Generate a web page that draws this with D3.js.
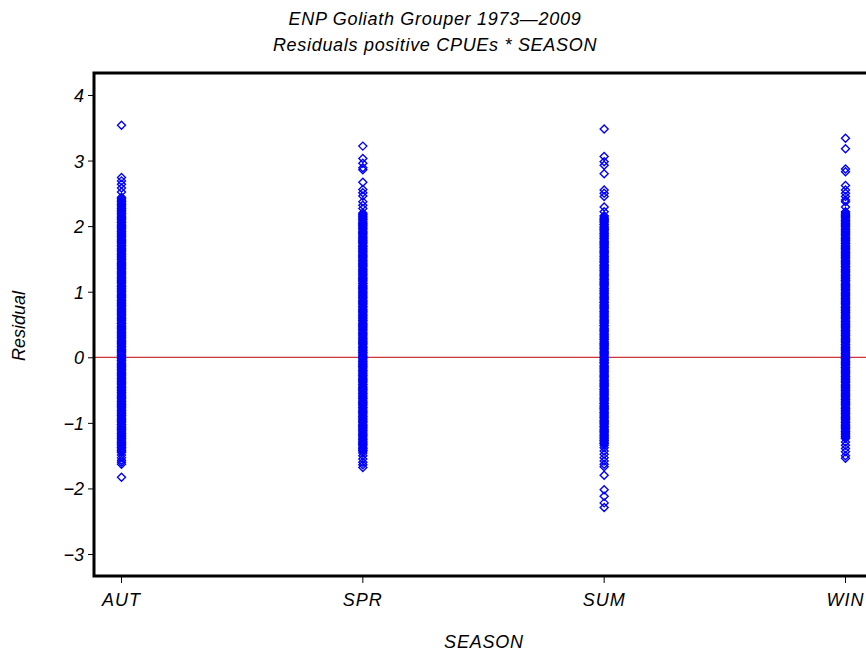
<!DOCTYPE html>
<html>
<head>
<meta charset="utf-8">
<script src="https://cdn.jsdelivr.net/npm/d3@7"></script>
<style>
  html, body { margin: 0; padding: 0; background: #fff; overflow: hidden; }
  svg text { font-family: "Liberation Sans", Arial, sans-serif; font-style: italic; fill: #000; }
</style>
</head>
<body>
<div id="chart"></div>
<script>
// categories on the x axis
var seasons = ["AUT", "SPR", "SUM", "WIN"];
var yTicks = [-3, -2, -1, 0, 1, 2, 3, 4];

// residuals, one list per season
var autResid = [3.54, 2.74, 2.69, 2.64, 2.58, 2.52,
    2.44, 2.40, 2.37, 2.33, 2.29, 2.26, 2.22, 2.19, 2.15, 2.12, 2.08, 2.05, 2.01, 1.98, 1.94, 1.91, 1.87, 1.84,
    1.80, 1.77, 1.73, 1.70, 1.66, 1.63, 1.59, 1.56, 1.52, 1.49, 1.45, 1.42, 1.38, 1.35, 1.31, 1.28, 1.24, 1.21,
    1.17, 1.14, 1.10, 1.07, 1.03, 1.00, 0.96, 0.93, 0.89, 0.86, 0.82, 0.79, 0.75, 0.72, 0.68, 0.65, 0.61, 0.58,
    0.54, 0.51, 0.47, 0.44, 0.40, 0.37, 0.33, 0.30, 0.26, 0.23, 0.19, 0.16, 0.12, 0.09, 0.05, 0.02, -0.02, -0.05,
    -0.09, -0.12, -0.16, -0.19, -0.23, -0.26, -0.30, -0.33, -0.37, -0.40, -0.44, -0.47, -0.51, -0.54, -0.58, -0.61,
    -0.65, -0.68, -0.72, -0.75, -0.79, -0.82, -0.86, -0.89, -0.93, -0.96, -1.00, -1.03, -1.07, -1.10, -1.14, -1.17,
    -1.21, -1.24, -1.28, -1.31, -1.35, -1.38, -1.42, -1.45, -1.49, -1.53, -1.57, -1.60, -1.63, -1.83];
var autCore = [2.42, 2.38, 2.35, 2.31, 2.27, 2.24, 2.20, 2.17, 2.13, 2.10, 2.06, 2.03, 1.99, 1.96, 1.92, 1.89,
    1.85, 1.82, 1.78, 1.75, 1.71, 1.68, 1.64, 1.61, 1.57, 1.54, 1.50, 1.47, 1.43, 1.40, 1.36, 1.33, 1.29, 1.26,
    1.22, 1.19, 1.15, 1.12, 1.08, 1.05, 1.01, 0.98, 0.94, 0.91, 0.87, 0.84, 0.80, 0.77, 0.73, 0.70, 0.66, 0.63,
    0.59, 0.56, 0.52, 0.49, 0.45, 0.42, 0.38, 0.35, 0.31, 0.28, 0.24, 0.21, 0.17, 0.14, 0.10, 0.07, 0.03, 0.00,
    -0.04, -0.07, -0.11, -0.14, -0.18, -0.21, -0.25, -0.28, -0.32, -0.35, -0.39, -0.42, -0.46, -0.49, -0.53, -0.56,
    -0.60, -0.63, -0.67, -0.70, -0.74, -0.77, -0.81, -0.84, -0.88, -0.91, -0.95, -0.98, -1.02, -1.05, -1.09, -1.12,
    -1.16, -1.19, -1.23, -1.26, -1.30, -1.33, -1.37, -1.40, -1.44];

var sprResid = [3.22, 3.03, 2.96, 2.89, 2.86, 2.67, 2.56, 2.51, 2.46, 2.37, 2.32, 2.27,
    2.20, 2.17, 2.13, 2.10, 2.06, 2.03, 1.99, 1.96, 1.92, 1.89, 1.85, 1.82, 1.78, 1.75, 1.71, 1.68, 1.64, 1.61,
    1.57, 1.54, 1.50, 1.47, 1.43, 1.40, 1.36, 1.33, 1.29, 1.26, 1.22, 1.19, 1.15, 1.12, 1.08, 1.05, 1.01, 0.98,
    0.94, 0.91, 0.87, 0.84, 0.80, 0.77, 0.73, 0.70, 0.66, 0.63, 0.59, 0.56, 0.52, 0.49, 0.45, 0.42, 0.38, 0.35,
    0.31, 0.28, 0.24, 0.21, 0.17, 0.14, 0.10, 0.07, 0.03, 0.00, -0.04, -0.07, -0.11, -0.14, -0.18, -0.21, -0.25,
    -0.28, -0.32, -0.35, -0.39, -0.42, -0.46, -0.49, -0.53, -0.56, -0.60, -0.63, -0.67, -0.70, -0.74, -0.77, -0.81,
    -0.84, -0.88, -0.91, -0.95, -0.98, -1.02, -1.05, -1.09, -1.12, -1.16, -1.19, -1.23, -1.26, -1.30, -1.33, -1.37,
    -1.40, -1.43, -1.46, -1.50, -1.55, -1.60, -1.64, -1.68];
var sprCore = [2.18, 2.15, 2.11, 2.08, 2.04, 2.01, 1.97, 1.94, 1.90, 1.87, 1.83, 1.80, 1.76, 1.73, 1.69, 1.66,
    1.62, 1.59, 1.55, 1.52, 1.48, 1.45, 1.41, 1.38, 1.34, 1.31, 1.27, 1.24, 1.20, 1.17, 1.13, 1.10, 1.06, 1.03,
    0.99, 0.96, 0.92, 0.89, 0.85, 0.82, 0.78, 0.75, 0.71, 0.68, 0.64, 0.61, 0.57, 0.54, 0.50, 0.47, 0.43, 0.40,
    0.36, 0.33, 0.29, 0.26, 0.22, 0.19, 0.15, 0.12, 0.08, 0.05, 0.01, -0.02, -0.06, -0.09, -0.13, -0.16, -0.20,
    -0.23, -0.27, -0.30, -0.34, -0.37, -0.41, -0.44, -0.48, -0.51, -0.55, -0.58, -0.62, -0.65, -0.69, -0.72, -0.76,
    -0.79, -0.83, -0.86, -0.90, -0.93, -0.97, -1.00, -1.04, -1.07, -1.11, -1.14, -1.18, -1.21, -1.25, -1.28, -1.32,
    -1.35, -1.39, -1.42];

var sumResid = [3.48, 3.06, 2.98, 2.93, 2.80, 2.55, 2.50, 2.45, 2.29, 2.22,
    2.16, 2.12, 2.09, 2.05, 2.02, 1.98, 1.95, 1.91, 1.88, 1.84, 1.81, 1.77, 1.74, 1.70, 1.67, 1.63, 1.60, 1.56,
    1.53, 1.49, 1.46, 1.42, 1.39, 1.35, 1.32, 1.28, 1.25, 1.21, 1.18, 1.14, 1.11, 1.07, 1.04, 1.00, 0.97, 0.93,
    0.90, 0.86, 0.83, 0.79, 0.76, 0.72, 0.69, 0.65, 0.62, 0.58, 0.55, 0.51, 0.48, 0.44, 0.41, 0.37, 0.34, 0.30,
    0.27, 0.23, 0.20, 0.16, 0.13, 0.09, 0.06, 0.02, -0.01, -0.05, -0.08, -0.12, -0.15, -0.19, -0.22, -0.26, -0.29,
    -0.33, -0.36, -0.40, -0.43, -0.47, -0.50, -0.54, -0.57, -0.61, -0.64, -0.68, -0.71, -0.75, -0.78, -0.82, -0.85,
    -0.89, -0.92, -0.96, -0.99, -1.03, -1.06, -1.10, -1.13, -1.17, -1.20, -1.24, -1.27, -1.31, -1.34,
    -1.38, -1.43, -1.48, -1.53, -1.58, -1.63, -1.67, -1.80, -2.02, -2.12, -2.22, -2.29];
var sumCore = [2.14, 2.10, 2.07, 2.03, 2.00, 1.96, 1.93, 1.89, 1.86, 1.82, 1.79, 1.75, 1.72, 1.68, 1.65, 1.61,
    1.58, 1.54, 1.51, 1.47, 1.44, 1.40, 1.37, 1.33, 1.30, 1.26, 1.23, 1.19, 1.16, 1.12, 1.09, 1.05, 1.02, 0.98,
    0.95, 0.91, 0.88, 0.84, 0.81, 0.77, 0.74, 0.70, 0.67, 0.63, 0.60, 0.56, 0.53, 0.49, 0.46, 0.42, 0.39, 0.35,
    0.32, 0.28, 0.25, 0.21, 0.18, 0.14, 0.11, 0.07, 0.04, 0.00, -0.03, -0.07, -0.10, -0.14, -0.17, -0.21, -0.24,
    -0.28, -0.31, -0.35, -0.38, -0.42, -0.45, -0.49, -0.52, -0.56, -0.59, -0.63, -0.66, -0.70, -0.73, -0.77, -0.80,
    -0.84, -0.87, -0.91, -0.94, -0.98, -1.01, -1.05, -1.08, -1.12, -1.15, -1.19, -1.22, -1.26, -1.29, -1.32];

var winResid = [3.34, 3.18, 2.87, 2.83, 2.62, 2.55, 2.50, 2.45, 2.40, 2.37, 2.29,
    2.22, 2.18, 2.15, 2.11, 2.08, 2.04, 2.01, 1.97, 1.94, 1.90, 1.87, 1.83, 1.80, 1.76, 1.73, 1.69, 1.66, 1.62,
    1.59, 1.55, 1.52, 1.48, 1.45, 1.41, 1.38, 1.34, 1.31, 1.27, 1.24, 1.20, 1.17, 1.13, 1.10, 1.06, 1.03, 0.99,
    0.96, 0.92, 0.89, 0.85, 0.82, 0.78, 0.75, 0.71, 0.68, 0.64, 0.61, 0.57, 0.54, 0.50, 0.47, 0.43, 0.40, 0.36,
    0.33, 0.29, 0.26, 0.22, 0.19, 0.15, 0.12, 0.08, 0.05, 0.01, -0.02, -0.06, -0.09, -0.13, -0.16, -0.20, -0.23,
    -0.27, -0.30, -0.34, -0.37, -0.41, -0.44, -0.48, -0.51, -0.55, -0.58, -0.62, -0.65, -0.69, -0.72, -0.76, -0.79,
    -0.83, -0.86, -0.90, -0.93, -0.97, -1.00, -1.04, -1.07, -1.11, -1.14, -1.18, -1.21, -1.24,
    -1.29, -1.34, -1.39, -1.44, -1.50, -1.54];
var winCore = [2.20, 2.16, 2.13, 2.09, 2.06, 2.02, 1.99, 1.95, 1.92, 1.88, 1.85, 1.81, 1.78, 1.74, 1.71, 1.67,
    1.64, 1.60, 1.57, 1.53, 1.50, 1.46, 1.43, 1.39, 1.36, 1.32, 1.29, 1.25, 1.22, 1.18, 1.15, 1.11, 1.08, 1.04,
    1.01, 0.97, 0.94, 0.90, 0.87, 0.83, 0.80, 0.76, 0.73, 0.69, 0.66, 0.62, 0.59, 0.55, 0.52, 0.48, 0.45, 0.41,
    0.38, 0.34, 0.31, 0.27, 0.24, 0.20, 0.17, 0.13, 0.10, 0.06, 0.03, -0.01, -0.04, -0.08, -0.11, -0.15, -0.18,
    -0.22, -0.25, -0.29, -0.32, -0.36, -0.39, -0.43, -0.46, -0.50, -0.53, -0.57, -0.60, -0.64, -0.67, -0.71, -0.74,
    -0.78, -0.81, -0.85, -0.88, -0.92, -0.95, -0.99, -1.02, -1.06, -1.09, -1.13, -1.16, -1.20, -1.23];

var residBySeason = [autResid.concat(autCore), sprResid.concat(sprCore),
    sumResid.concat(sumCore), winResid.concat(winCore)];

var W = 866, H = 656;
var frame = {left: 94, right: 872, top: 73, bottom: 576};

var svg = d3.select("#chart").append("svg")
    .attr("width", W)
    .attr("height", H);

// titles
svg.append("text")
    .attr("x", 435).attr("y", 25)
    .attr("text-anchor", "middle")
    .style("font-size", "18px")
    .style("letter-spacing", "0.7px")
    .text("ENP Goliath Grouper 1973\u20142009");
svg.append("text")
    .attr("x", 435).attr("y", 51)
    .attr("text-anchor", "middle")
    .style("font-size", "18px")
    .style("letter-spacing", "0.7px")
    .text("Residuals positive CPUEs * SEASON");

var xScale = d3.scalePoint()
    .domain(seasons)
    .range([121, 845]);

var yScale = d3.scaleLinear()
    .domain([-3.335, 4.335])
    .range([frame.bottom, frame.top]);

// y axis
var yAxis = svg.append("g")
    .attr("transform", "translate(" + frame.left + ",0)")
    .call(d3.axisLeft(yScale).tickValues(yTicks).tickSize(6).tickPadding(4)
        .tickFormat(function (d) { return d < 0 ? "\u2212" + Math.abs(d) : d; }));
yAxis.select(".domain").remove();
yAxis.selectAll("text").style("font-size", "18px").attr("dy", "0.36em");

// x axis
var xAxis = svg.append("g")
    .attr("transform", "translate(0," + frame.bottom + ")")
    .call(d3.axisBottom(xScale).tickSize(7).tickPadding(10));
xAxis.select(".domain").remove();
xAxis.selectAll("text").style("font-size", "18px").style("letter-spacing", "1px");

// axis titles
svg.append("text")
    .attr("transform", "translate(25,326) rotate(-90)")
    .attr("text-anchor", "middle")
    .style("font-size", "18px")
    .text("Residual");
svg.append("text")
    .attr("x", 484).attr("y", 648)
    .attr("text-anchor", "middle")
    .style("font-size", "18px")
    .style("letter-spacing", "0.8px")
    .text("SEASON");

// zero reference line
svg.append("line")
    .attr("x1", frame.left).attr("x2", frame.right)
    .attr("y1", yScale(0)).attr("y2", yScale(0))
    .attr("stroke", "#c00000")
    .attr("stroke-width", 1);

// points as open diamonds
var diamond = "M0,-4L4,0L0,4L-4,0Z";
var points = [];
residBySeason.forEach(function (arr, i) {
    arr.forEach(function (v) { points.push({season: seasons[i], value: v}); });
});
svg.append("g")
    .selectAll("path")
    .data(points)
    .enter()
    .append("path")
    .attr("d", diamond)
    .attr("transform", function (d) {
        return "translate(" + (xScale(d.season) + 0.5) + "," + yScale(d.value) + ")";
    })
    .attr("fill", "none")
    .attr("stroke", "#0000ff")
    .attr("stroke-width", 1.4);

// plot frame
svg.append("rect")
    .attr("x", frame.left).attr("y", frame.top)
    .attr("width", frame.right - frame.left)
    .attr("height", frame.bottom - frame.top)
    .attr("fill", "none")
    .attr("stroke", "#000")
    .attr("stroke-width", 3);
</script>
</body>
</html>
